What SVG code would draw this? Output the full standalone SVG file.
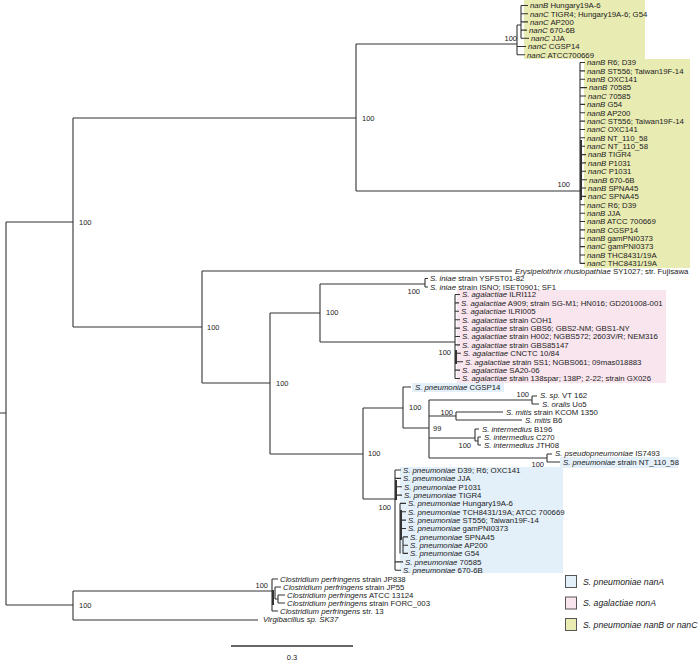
<svg xmlns="http://www.w3.org/2000/svg" width="700" height="662" viewBox="0 0 700 662">
<style>
text{font-family:"Liberation Sans",Arial,sans-serif;font-size:7.8px;fill:#222}
.i{font-style:italic}
.s{font-size:7.5px}
.e{text-anchor:end}
.lg{font-size:8.7px;font-style:italic}
.tr{fill:none;stroke:#333;stroke-width:1.1}
.tk{fill:none;stroke:#333;stroke-width:2}
</style>
<rect width="700" height="662" fill="#fff"/>
<g id="highlights">
<rect x="524" y="0" width="121" height="59" fill="#e8ebb2"/>
<rect x="584" y="59" width="106" height="209" fill="#e8ebb2"/>
<rect x="457" y="290" width="209" height="93" fill="#f9e5ee"/>
<rect x="412" y="383" width="92" height="9" fill="#e3eff9"/>
<rect x="560" y="457" width="118" height="11" fill="#e3eff9"/>
<rect x="400" y="467" width="163" height="106" fill="#e3eff9"/>
</g>
<g id="connectors">
<path class="tr" d="M0,413H6M6,222V605M6,222H73M6,605H73
M73,118V327M73,118H356M73,327H202
M356,44V191M356,44H517M356,191H580
M517,25V54.7M517,25H521M521,5.5V38.3M521,5.5H528M521,13.7H528M521,21.9H528M521,30.1H527M521,38.3H529M517,46.5H526M517,54.7H525
M580,62.5V263.4
M580,62.5H585M580,70.9H585M580,79.2H585M580,87.6H587M580,96H586M580,104.4H585M580,112.7H585M580,121.1H585M580,129.5H585M580,137.8H585M580,146.2H585M580,154.6H586M580,162.9H586M580,171.3H586M580,179.7H587M580,188H586M580,196.4H586M580,204.8H585M580,213.2H585M580,221.5H585M580,229.9H585M580,238.3H585M580,246.6H585M580,255H585M580,263.4H585
M202,271V383M202,271H512M202,383H270
M320,284V342M320,284H425M320,342H455
M425,278.5V287M425,278.5H428M425,287H428
M455,294.5V378.5M455,294.5H460M455,302.9H459M455,311.3H459M455,319.7H460M455,328.1H460M455,336.5H460M455,344.9H460M457,353.3H461M457,361.7H463M455,370.1H460M455,378.5H460M455,357.5H457
M270,313V454M270,313H320M270,454H363
M363,408V499M363,408H403M363,499H395
M403,387V428M403,387H411M403,428H429
M429,400V458M429,400H532M429,416H456M429,438H475M429,458H547
M532,396V404M532,396H537M532,404H539
M456,412V420M456,412H503M456,420H522
M475,429V441M475,429H479M475,441H478M478,437V445M478,437H481M478,445H481
M547,454V462M547,454H552M547,462H560
M395,470V570M395,470H401M395,478.4H401M395,486.7H402M395,495.1H402
M400,503.4V553.4M400,503.4H406M400,511.8H406M400,520.1H406M400,528.5H406M403,536.9V553.4M403,536.9H408M403,545.2H408M403,553.4H408M395,561.9H403M395,570.2H401
M73,591V620M73,591H272M73,620H258
M272,579V611M272,579H278M272,611H278M275,587V599M275,587H281M275,599H278M278,595V603M278,595H285M278,603H285"/>
<path class="tk" d="M581,140V200M396,480V500M401,510V540M456,350V364M273,590V605"/>
<path d="M231,646H353" stroke="#333" stroke-width="1.3"/>
</g>
<g id="support">
<text class="s" x="79" y="224.7">100</text>
<text class="s" x="362" y="120.7">100</text>
<text class="s" x="207" y="329.7">100</text>
<text class="s" x="326" y="314.7">100</text>
<text class="s e" x="420" y="293.7">100</text>
<text class="s" x="276" y="385.7">100</text>
<text class="s" x="368" y="455.7">100</text>
<text class="s" x="409" y="409.7">100</text>
<text class="s" x="433" y="430.7">99</text>
<text class="s e" x="529" y="396.7">100</text>
<text class="s e" x="453" y="414.7">100</text>
<text class="s e" x="471" y="447.7">100</text>
<text class="s e" x="544" y="466.7">100</text>
<text class="s e" x="391" y="509.7">100</text>
<text class="s e" x="451" y="354.7">100</text>
<text class="s e" x="268" y="587.7">100</text>
<text class="s" x="79" y="607.7">100</text>
<text class="s e" x="517" y="40.7">100</text>
<text class="s e" x="570" y="186.7">100</text>
</g>
<g id="nanBC-top">
<g id="t1"><text x="530" y="8.3"><tspan class="i">nanB</tspan> Hungary19A-6</text></g>
<g id="t2"><text x="530" y="16.5"><tspan class="i">nanC</tspan> TIGR4; Hungary19A-6; G54</text></g>
<g id="t3"><text x="530" y="24.7"><tspan class="i">nanC</tspan> AP200</text></g>
<g id="t4"><text x="529" y="32.9"><tspan class="i">nanC</tspan> 670-6B</text></g>
<g id="t5"><text x="531" y="41.1"><tspan class="i">nanC</tspan> JJA</text></g>
<g id="t6"><text x="528" y="49.3"><tspan class="i">nanC</tspan> CGSP14</text></g>
<g id="t7"><text x="527" y="57.5"><tspan class="i">nanC</tspan> ATCC700669</text></g>
</g>
<g id="nanBC-bottom">
<g id="b1"><text x="587" y="65.3"><tspan class="i">nanB</tspan> R6; D39</text></g>
<g id="b2"><text x="587" y="73.7"><tspan class="i">nanB</tspan> ST556; Taiwan19F-14</text></g>
<g id="b3"><text x="587" y="82"><tspan class="i">nanB</tspan> OXC141</text></g>
<g id="b4"><text x="589" y="90.4"><tspan class="i">nanB</tspan> 70585</text></g>
<g id="b5"><text x="588" y="98.8"><tspan class="i">nanC</tspan> 70585</text></g>
<g id="b6"><text x="587" y="107.2"><tspan class="i">nanB</tspan> G54</text></g>
<g id="b7"><text x="587" y="115.5"><tspan class="i">nanB</tspan> AP200</text></g>
<g id="b8"><text x="587" y="123.9"><tspan class="i">nanC</tspan> ST556; Taiwan19F-14</text></g>
<g id="b9"><text x="587" y="132.3"><tspan class="i">nanC</tspan> OXC141</text></g>
<g id="b10"><text x="587" y="140.6"><tspan class="i">nanB</tspan> NT_110_58</text></g>
<g id="b11"><text x="587" y="149"><tspan class="i">nanC</tspan> NT_110_58</text></g>
<g id="b12"><text x="588" y="157.4"><tspan class="i">nanB</tspan> TIGR4</text></g>
<g id="b13"><text x="588" y="165.7"><tspan class="i">nanB</tspan> P1031</text></g>
<g id="b14"><text x="588" y="174.1"><tspan class="i">nanC</tspan> P1031</text></g>
<g id="b15"><text x="589" y="182.5"><tspan class="i">nanB</tspan> 670-6B</text></g>
<g id="b16"><text x="588" y="190.8"><tspan class="i">nanB</tspan> SPNA45</text></g>
<g id="b17"><text x="588" y="199.2"><tspan class="i">nanC</tspan> SPNA45</text></g>
<g id="b18"><text x="587" y="207.6"><tspan class="i">nanC</tspan> R6; D39</text></g>
<g id="b19"><text x="587" y="216"><tspan class="i">nanB</tspan> JJA</text></g>
<g id="b20"><text x="587" y="224.3"><tspan class="i">nanB</tspan> ATCC 700669</text></g>
<g id="b21"><text x="587" y="232.7"><tspan class="i">nanB</tspan> CGSP14</text></g>
<g id="b22"><text x="587" y="241.1"><tspan class="i">nanB</tspan> gamPNI0373</text></g>
<g id="b23"><text x="587" y="249.4"><tspan class="i">nanC</tspan> gamPNI0373</text></g>
<g id="b24"><text x="587" y="257.8"><tspan class="i">nanB</tspan> THC8431/19A</text></g>
<g id="b25"><text x="587" y="266.2"><tspan class="i">nanC</tspan> THC8431/19A</text></g>
</g>
<g id="erysipelothrix"><text x="515" y="273.8"><tspan class="i">Erysipelothrix rhusiopathiae</tspan> SY1027; str. Fujisawa</text></g>
<g id="iniae1"><text x="430" y="281.3"><tspan class="i">S. iniae</tspan> strain YSFST01-82</text></g>
<g id="iniae2"><text x="430" y="289.8"><tspan class="i">S. iniae</tspan> strain ISNO; ISET0901; SF1</text></g>
<g id="agalactiae">
<g id="a1"><text x="462" y="297.3"><tspan class="i">S. agalactiae</tspan> ILRI112</text></g>
<g id="a2"><text x="461" y="305.7"><tspan class="i">S. agalactiae</tspan> A909; strain SG-M1; HN016; GD201008-001</text></g>
<g id="a3"><text x="461" y="314.1"><tspan class="i">S. agalactiae</tspan> ILRI005</text></g>
<g id="a4"><text x="462" y="322.5"><tspan class="i">S. agalactiae</tspan> strain COH1</text></g>
<g id="a5"><text x="462" y="330.9"><tspan class="i">S. agalactiae</tspan> strain GBS6; GBS2-NM; GBS1-NY</text></g>
<g id="a6"><text x="462" y="339.3"><tspan class="i">S. agalactiae</tspan> strain H002; NGBS572; 2603V/R; NEM316</text></g>
<g id="a7"><text x="462" y="347.7"><tspan class="i">S. agalactiae</tspan> strain GBS85147</text></g>
<g id="a8"><text x="463" y="356.1"><tspan class="i">S. agalactiae</tspan> CNCTC 10/84</text></g>
<g id="a9"><text x="465" y="364.5"><tspan class="i">S. agalactiae</tspan> strain SS1; NGBS061; 09mas018883</text></g>
<g id="a10"><text x="462" y="372.9"><tspan class="i">S. agalactiae</tspan> SA20-06</text></g>
<g id="a11"><text x="462" y="381.3"><tspan class="i">S. agalactiae</tspan> strain 138spar; 138P; 2-22; strain GX026</text></g>
</g>
<g id="cgsp14"><text x="415" y="390.3"><tspan class="i">S. pneumoniae</tspan> CGSP14</text></g>
<g id="sp"><text x="540" y="397.8"><tspan class="i">S. sp.</tspan> VT 162</text></g>
<g id="oralis"><text x="542" y="406.8"><tspan class="i">S. oralis</tspan> Uo5</text></g>
<g id="mitis1"><text x="506" y="414.8"><tspan class="i">S. mitis</tspan> strain KCOM 1350</text></g>
<g id="mitis2"><text x="525" y="422.8"><tspan class="i">S. mitis</tspan> B6</text></g>
<g id="int1"><text x="482" y="431.8"><tspan class="i">S. intermedius</tspan> B196</text></g>
<g id="int2"><text x="484" y="439.8"><tspan class="i">S. intermedius</tspan> C270</text></g>
<g id="int3"><text x="484" y="447.8"><tspan class="i">S. intermedius</tspan> JTH08</text></g>
<g id="pseudo"><text x="555" y="455.8"><tspan class="i">S. pseudopneumoniae</tspan> IS7493</text></g>
<g id="nt110"><text x="563" y="465"><tspan class="i">S. pneumoniae</tspan> strain NT_110_58</text></g>
<g id="nanA">
<g id="p1"><text x="403" y="472.8"><tspan class="i">S. pneumoniae</tspan> D39; R6; OXC141</text></g>
<g id="p2"><text x="403" y="481.2"><tspan class="i">S. pneumoniae</tspan> JJA</text></g>
<g id="p3"><text x="404" y="489.5"><tspan class="i">S. pneumoniae</tspan> P1031</text></g>
<g id="p4"><text x="404" y="497.9"><tspan class="i">S. pneumoniae</tspan> TIGR4</text></g>
<g id="p5"><text x="408" y="506.2"><tspan class="i">S. pneumoniae</tspan> Hungary19A-6</text></g>
<g id="p6"><text x="408" y="514.6"><tspan class="i">S. pneumoniae</tspan> TCH8431/19A; ATCC 700669</text></g>
<g id="p7"><text x="408" y="522.9"><tspan class="i">S. pneumoniae</tspan> ST556; Taiwan19F-14</text></g>
<g id="p8"><text x="408" y="531.3"><tspan class="i">S. pneumoniae</tspan> gamPNI0373</text></g>
<g id="p9"><text x="410" y="539.7"><tspan class="i">S. pneumoniae</tspan> SPNA45</text></g>
<g id="p10"><text x="410" y="548"><tspan class="i">S. pneumoniae</tspan> AP200</text></g>
<g id="p11"><text x="410" y="556.2"><tspan class="i">S. pneumoniae</tspan> G54</text></g>
<g id="p12"><text x="405" y="564.7"><tspan class="i">S. pneumoniae</tspan> 70585</text></g>
<g id="p13"><text x="403" y="573"><tspan class="i">S. pneumoniae</tspan> 670-6B</text></g>
</g>
<g id="clostridium">
<g id="c1"><text x="280" y="581.8"><tspan class="i">Clostridium perfringens</tspan> strain JP838</text></g>
<g id="c2"><text x="283" y="589.8"><tspan class="i">Clostridium perfringens</tspan> strain JP55</text></g>
<g id="c3"><text x="287" y="597.8"><tspan class="i">Clostridium perfringens</tspan> ATCC 13124</text></g>
<g id="c4"><text x="287" y="605.8"><tspan class="i">Clostridium perfringens</tspan> strain FORC_003</text></g>
<g id="c5"><text x="280" y="613.8"><tspan class="i">Clostridium perfringens</tspan> str. 13</text></g>
</g>
<g id="virgibacillus"><text class="i" x="263" y="621.8">Virgibacillus sp. SK37</text></g>
<g id="scale"><text class="s" x="292" y="659.5" text-anchor="middle">0.3</text></g>
<g id="legend">
<g id="lg1"><rect x="565.5" y="575.5" width="11" height="12" fill="#e3eff9" stroke="#555" stroke-width="1"/><text class="lg" x="583" y="584.5">S. pneumoniae nanA</text></g>
<g id="lg2"><rect x="565.5" y="597" width="11" height="12" fill="#f9e5ee" stroke="#555" stroke-width="1"/><text class="lg" x="583" y="606">S. agalactiae nonA</text></g>
<g id="lg3"><rect x="565.5" y="618.5" width="11" height="12" fill="#e8ebb2" stroke="#555" stroke-width="1"/><text class="lg" x="583" y="627.5">S. pneumoniae nanB or nanC</text></g>
</g>
</svg>
